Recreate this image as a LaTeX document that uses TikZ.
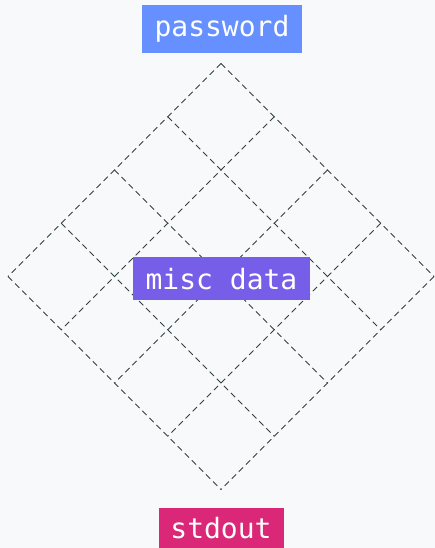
\documentclass[tikz,border=0pt]{standalone}
\usepackage{fontspec}
\usetikzlibrary{calc}
\setmonofont{DejaVu Sans Mono}
\definecolor{bgc}{HTML}{F8F9FA}
\definecolor{gridc}{HTML}{2F3F45}
\definecolor{pwc}{HTML}{6690FF}
\definecolor{miscc}{HTML}{765EE8}
\definecolor{outc}{HTML}{DB2777}
\tikzset{
  lbl/.style={fill=#1, text=white, font=\ttfamily\fontsize{28}{30}\selectfont, inner xsep=11pt, inner ysep=0pt, anchor=center},
  gridline/.style={draw=gridc, line width=1pt, dash pattern=on 6pt off 4pt}
}
\begin{document}
\begin{tikzpicture}[x=1pt,y=1pt]
\fill[bgc] (0,0) rectangle (435,548);
\useasboundingbox (0,0) rectangle (435,548);
\coordinate (T) at (221,484.5);
\foreach \i in {0,...,4}{
  \draw[gridline] ($(T)+\i*(53.25,-53.25)$) -- ($(T)+\i*(53.25,-53.25)+4*(-53.25,-53.25)$);
  \draw[gridline] ($(T)+\i*(-53.25,-53.25)$) -- ($(T)+\i*(-53.25,-53.25)+4*(53.25,-53.25)$);
}
\node[lbl=pwc, minimum height=48pt, minimum width=160pt] (pw) at (222,519) {password};
\node[lbl=miscc, minimum height=43pt, minimum width=177pt] (misc) at (221.5,269) {misc data};
\node[lbl=outc, minimum height=40pt, minimum width=125pt] (out) at (221,20) {stdout};
\end{tikzpicture}
\end{document}
